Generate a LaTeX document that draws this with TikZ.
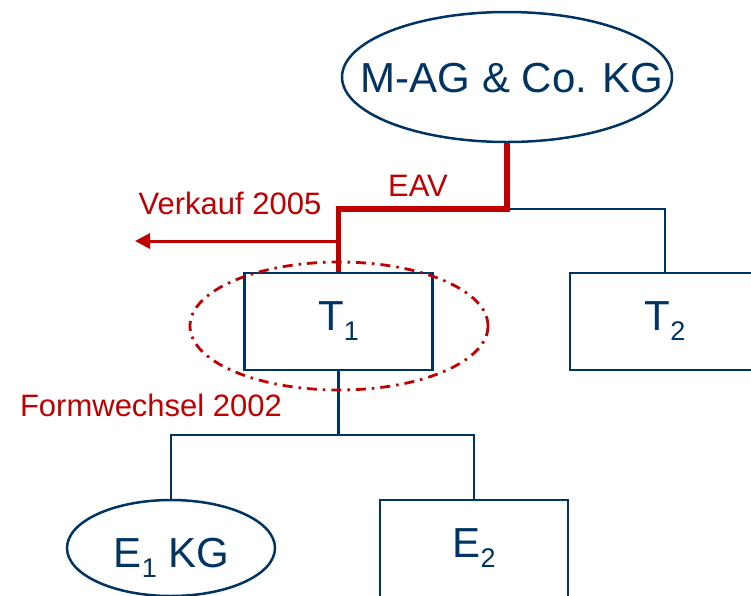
\documentclass[tikz,border=0pt]{standalone}
\usepackage{fontspec}
\setmainfont{Liberation Sans}
\usetikzlibrary{arrows.meta,positioning,shapes.geometric,calc}
\definecolor{navy}{HTML}{003462}
\definecolor{darkred}{HTML}{C00000}
\newcommand{\idx}[1]{\raisebox{-10pt}{\fontsize{27}{27}\selectfont #1}}

\begin{document}
\begin{tikzpicture}[x=1pt, y=-1pt,
  orgline/.style={draw=navy, line width=2.9pt},
  orgbox/.style={rectangle, orgline, fill=white, inner sep=0pt,
                 minimum width=188pt, minimum height=97pt, text=navy,
                 font=\fontsize{42}{50}\selectfont},
  orgell/.style={ellipse, orgline, line width=2.5pt, fill=white, inner sep=0pt},
  orgtext/.style={text=navy, inner sep=0pt, font=\fontsize{42}{50}\selectfont},
  eavline/.style={draw=darkred, line width=5.5pt},
  redlabel/.style={text=darkred, anchor=base, inner sep=0pt,
                   font=\fontsize{31}{36}\selectfont}]

\useasboundingbox (0,0) rectangle (751,595);
\clip (0,0) rectangle (751,595);

% companies
\node[orgell, minimum width=330pt, minimum height=130pt] (mag) at (507,77) {};
\node[orgtext, anchor=base] (magname) at (512,92) {M-AG \& Co. KG};
\node[orgbox] (t1) at (338.5,321.5) {T\idx{1}};
\node[orgbox, minimum width=190pt] (t2) at (665,321.5) {T\idx{2}};
\node[orgell, minimum width=208pt, minimum height=96pt] (e1) at (171,548) {};
\node[orgtext, anchor=base] (e1name) at (171.5,567) {E\idx{1} KG};
\node[orgbox] (e2) at (474,548.5) {E\idx{2}};

% holding structure
\coordinate (split) at (mag.south |- 0,209);
\coordinate (fork) at (t1.south |- 0,435);
\coordinate (sold) at (135,241);
\draw[orgline] (split) -| (t2.north);
\draw[orgline] (t1.south) -- (fork);
\draw[orgline] (e1.north) |- (fork) -| (e2.north);
\draw[eavline] (mag.south) -- (split) -| (t1.north);
\draw[darkred, line width=3pt, -{Triangle[length=15pt,width=15pt]}]
  (t1.north |- sold) -- (sold);

% change of form around T1
\node[ellipse, draw=darkred, line width=2.8pt,
      dash pattern=on 10pt off 6pt on 2.5pt off 6pt,
      minimum width=298pt, minimum height=128pt] (ring) at (339,326) {};

% annotations
\node[redlabel] (eav) at (418,196) {EAV};
\node[redlabel] (sale) at (230,214) {Verkauf 2005};
\node[redlabel] (form) at (151,416) {Formwechsel 2002};

\end{tikzpicture}
\end{document}
